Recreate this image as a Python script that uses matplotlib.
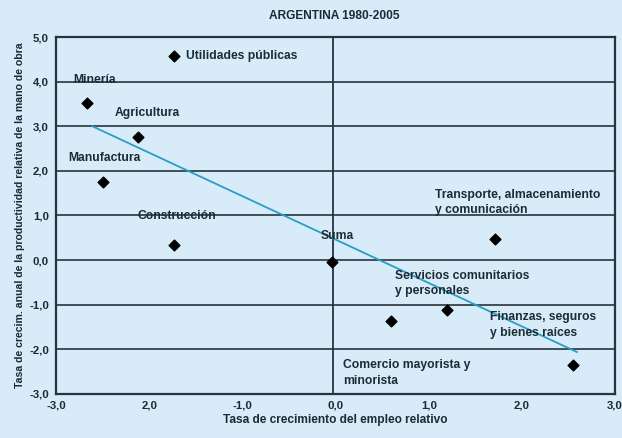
import matplotlib
matplotlib.use("Agg")
import matplotlib.pyplot as plt

# Data
sectors = ["Utilidades públicas", "Minería", "Agricultura", "Manufactura", "Construcción",
           "Suma", "Transporte, almacenamiento\ny comunicación",
           "Servicios comunitarios\ny personales", "Comercio mayorista y\nminorista",
           "Finanzas, seguros\ny bienes raíces"]
emp_growth = [-1.73, -2.67, -2.12, -2.50, -1.73, -0.04, 1.71, 1.20, 0.60, 2.55]
prod_growth = [4.57, 3.52, 2.76, 1.75, 0.34, -0.04, 0.47, -1.12, -1.37, -2.35]
trend_x = [-2.61, 2.59]
trend_y = [3.00, -2.06]
xticks = [-3, -2, -1, 0, 1, 2, 3]
xticklabels = ["-3,0", "2,0", "-1,0", "0,0", "1,0", "2,0", "3,0"]
yticks = [-3, -2, -1, 0, 1, 2, 3, 4, 5]
yticklabels = ["-3,0", "-2,0", "-1,0", "0,0", "1,0", "2,0", "3,0", "4,0", "5,0"]

# label anchor positions (data coords), left-aligned
label_pos = [(-1.60, 4.57), (-2.82, 4.04), (-2.37, 3.30), (-2.87, 2.29), (-2.12, 0.99),
             (-0.16, 0.54), (1.07, 1.29), (0.64, -0.52), (0.08, -2.53), (1.66, -1.46)]

BG = "#d7ebf8"
DARK = "#27343d"
TXT = "#1c2a33"
FAM = ["Liberation Sans Narrow", "Liberation Sans", "DejaVu Sans"]
plt.rcParams["font.family"] = FAM

fig = plt.figure(figsize=(6.22, 4.38), dpi=100, facecolor=BG)
ax = fig.add_axes([0.090, 0.1005, 0.899, 0.815], facecolor=BG)

ax.set_xlim(-3, 3)
ax.set_ylim(-3, 5)

for y in [-2, -1, 0, 1, 2, 3, 4]:
    ax.axhline(y, color=DARK, lw=1.2, zorder=1)
ax.axvline(-0.03, color=DARK, lw=1.3, zorder=1)

ax.plot(trend_x, trend_y, color="#2a9fc4", lw=1.3, zorder=2)
ax.scatter(emp_growth, prod_growth, marker="D", s=30, color="black", zorder=3)

for name, (lx, ly) in zip(sectors, label_pos):
    ax.text(lx, ly, name, ha="left", va="center", fontsize=8.7, fontweight="bold",
            color=TXT, linespacing=1.4, zorder=4)

for s in ax.spines.values():
    s.set_color(DARK)
    s.set_linewidth(1.6)

ax.set_xticks(xticks)
ax.set_xticklabels(xticklabels)
ax.set_yticks(yticks)
ax.set_yticklabels(yticklabels)
ax.tick_params(length=0, labelsize=8.2, colors=TXT, pad=5)
for lab in ax.get_xticklabels() + ax.get_yticklabels():
    lab.set_fontweight("bold")

ax.set_xlabel("Tasa de crecimiento del empleo relativo", fontsize=8.6, fontweight="bold",
              color=TXT, labelpad=2)
ax.set_ylabel("Tasa de crecim. anual de la productividad relativa de la mano de obra",
              fontsize=7.6, fontweight="bold", color=TXT, labelpad=3)
fig.text(0.537, 0.964, "ARGENTINA 1980-2005", ha="center", va="center", fontsize=8.6,
         fontweight="bold", color=TXT)

fig.savefig("out.png", dpi=100, facecolor=BG)
